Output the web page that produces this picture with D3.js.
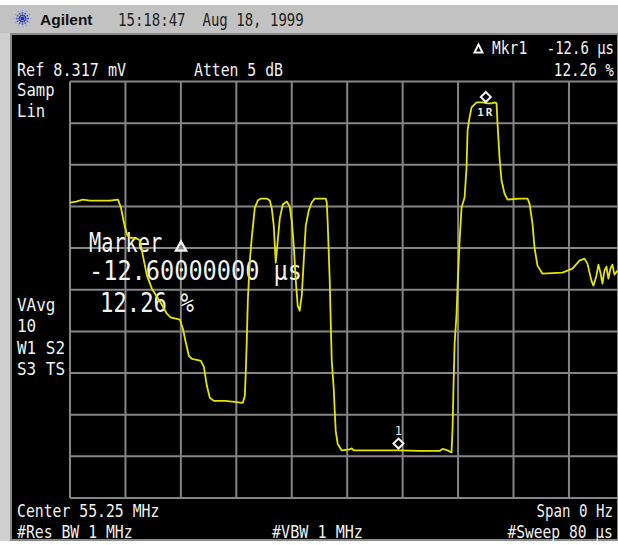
<!DOCTYPE html>
<html>
<head>
<meta charset="utf-8">
<script src="https://cdn.jsdelivr.net/npm/d3@7"></script>
<style>
  html, body { margin: 0; padding: 0; background: #ffffff; overflow: hidden; }
  svg { display: block; }
</style>
</head>
<body>
<svg id="screen" width="618" height="545"></svg>
<script>
// Zero-span sweep: time since trigger (µs) and detected level (mV, linear scale)
const sweepTimeUs = [
  0, 0.86, 1.87, 2.88, 4.32, 5.77, 6.92, 7.35, 7.78, 8.22, 8.65, 9.66, 10.09, 10.52,
  11.10, 11.82, 12.54, 13.26, 13.98, 14.56, 15.28, 15.86, 16.29, 16.72, 17.15, 17.59,
  18.31, 18.88, 19.32, 19.75, 20.18, 20.76, 22.34, 23.78, 24.94, 25.23, 25.37, 25.51,
  25.66, 25.95, 26.23, 26.67, 27.10, 27.53, 28.40, 28.83, 29.12, 29.40, 29.69, 29.98,
  30.27, 30.70, 31.28, 31.71, 32.00, 32.29, 32.58, 32.86, 33.15, 33.44, 33.73, 34.02,
  34.45, 34.88, 35.32, 36.90, 37.05, 37.19, 37.48, 37.62, 37.77, 38.05, 38.20, 38.34,
  38.63, 39.21, 40.36, 40.65, 40.94, 44.68, 47.57, 50.45, 53.33, 53.77, 54.49, 55.06,
  55.21, 55.35, 55.50, 55.78, 55.93, 56.22, 56.50, 56.94, 57.22, 57.37, 57.66, 57.95,
  58.67, 59.53, 60.25, 60.83, 61.26, 61.55, 61.69, 61.98, 62.27, 62.70, 63.14, 64.86,
  66.02, 66.31, 66.74, 67.03, 67.46, 68.18, 71.06, 72.50, 73.51, 74.23, 74.67, 75.24,
  75.53, 75.96, 76.25, 76.54, 76.83, 77.12, 77.41, 77.69, 77.98, 78.27, 78.56, 79.00
];
const traceMv = [
  5.90, 5.92, 5.96, 5.94, 5.94, 5.94, 5.96, 5.80, 5.50, 5.26, 5.20, 5.18, 5.14, 4.84,
  4.44, 4.18, 4.02, 3.86, 3.68, 3.60, 3.58, 3.56, 3.38, 3.10, 2.84, 2.78,
  2.76, 2.74, 2.62, 2.24, 2.00, 1.94, 1.94, 1.92, 1.90, 2.04, 2.54, 3.14,
  3.94, 4.74, 5.20, 5.80, 5.94, 5.98, 5.98, 5.94, 5.78, 5.44, 4.70, 5.14,
  5.58, 5.86, 5.92, 5.82, 5.54, 5.04, 4.34, 3.84, 3.74, 4.04, 4.74, 5.44,
  5.74, 5.90, 5.98, 5.98, 5.90, 5.48, 4.34, 3.54, 2.74, 2.20, 1.74, 1.34,
  1.08, 0.95, 0.97, 0.99, 0.95, 0.95, 0.95, 0.94, 0.94, 0.98, 0.95, 0.91,
  1.40, 2.28, 3.08, 3.68, 4.24, 5.14, 5.80, 6.00, 6.60, 7.34, 7.60, 7.80,
  7.90, 7.90, 7.88, 7.88, 7.90, 7.88, 7.48, 6.80, 6.34, 6.08, 5.96, 5.98,
  5.98, 5.88, 5.48, 5.00, 4.64, 4.48, 4.50, 4.58, 4.74, 4.78, 4.68, 4.34,
  4.24, 4.44, 4.66, 4.50, 4.28, 4.54, 4.62, 4.38, 4.58, 4.66, 4.46, 4.54
];

// Instrument settings
const refLevelMv = 8.317;
const sweepUs = 80;
const gridTimesUs = [0, 8, 16, 24, 32, 40, 48, 56, 64, 72, 80];
const gridLevelsMv = [0, 0.8317, 1.6634, 2.4951, 3.3268, 4.1585, 4.9902, 5.8219, 6.6536, 7.4853, 8.317];

// Delta marker: reference (1R) time, delta time and level ratio
const markerRefTimeUs = 60.0;
const markerDeltaUs = -12.6;
const markerRatio = 0.1226;
const markerDeltaText = "-12.60000000 µs";
const markerRatioText = "12.26 %";

const headerBrand = "Agilent";
const headerStamp = "15:18:47  Aug 18, 1999";

const topLeftLines = ["Samp", "Lin"];
const midLeftLines = ["VAvg", "10", "W1 S2", "S3 TS"];

const svg = d3.select("#screen");
const W = 618, H = 545;
const MONO = "'DejaVu Sans Mono', 'Liberation Mono', monospace";
const MONO_ADVANCE = 0.602; // glyph advance of DejaVu Sans Mono, in em

// Bezel and title bar
svg.append("rect").attr("x", 0).attr("y", 5).attr("width", W).attr("height", 536).attr("fill", "#cfcfcf");
svg.append("rect").attr("x", 0).attr("y", 5).attr("width", W).attr("height", 28).attr("fill", "#c2c2c2");
svg.append("rect").attr("x", 11).attr("y", 34).attr("width", W - 11).attr("height", 506)
  .attr("fill", "#000").attr("stroke", "#8a8a8a").attr("stroke-width", 2);

// Logo spark
const logo = svg.append("g").attr("transform", "translate(22.5,18.5)");
d3.range(12).forEach(i => {
  const a = i * Math.PI / 6;
  [3.2, 5.6, 8].forEach((r, j) => {
    logo.append("circle")
      .attr("cx", Math.cos(a) * r).attr("cy", Math.sin(a) * r)
      .attr("r", j === 2 ? 0.8 : 1.0)
      .attr("fill", j === 0 ? "#2d3fb8" : (j === 1 ? "#4a62d6" : "#8a9ae6"));
  });
});
logo.append("circle").attr("r", 1.8).attr("fill", "#1d2a9a");

svg.append("text").attr("x", 40).attr("y", 25)
  .attr("font-family", "'Liberation Sans', Arial, sans-serif").attr("font-weight", "bold")
  .attr("font-size", 15.5).attr("fill", "#111").text(headerBrand);

// Narrow instrument-style text: a monospace face squeezed to a fixed cell width
function mono(x, y, str, cell, opts = {}) {
  const size = opts.size || 18.5;
  const sx = cell / (MONO_ADVANCE * size);
  const len = str.length * cell;
  const x0 = opts.anchor === "end" ? x - len : x;
  return svg.append("text")
    .attr("transform", `translate(${x0},${y}) scale(${sx},1)`)
    .attr("font-family", MONO).attr("font-size", size)
    .attr("fill", opts.fill || "#f2f2f2")
    .style("white-space", "pre")
    .text(str);
}

mono(118, 26, headerStamp, 8.45, { fill: "#222" });

// Scales: ten divisions horizontally and vertically
const x = d3.scaleLinear().domain([0, sweepUs]).range([70, 624.4]);
const y = d3.scaleLinear().domain([0, refLevelMv]).range([498, 81.5]);

// Graticule
const grid = svg.append("g").attr("stroke", "#858585").attr("stroke-width", 2);
gridTimesUs.forEach(t => {
  grid.append("line").attr("x1", x(t)).attr("x2", x(t)).attr("y1", y(0)).attr("y2", y(refLevelMv));
});
gridLevelsMv.forEach(v => {
  grid.append("line").attr("x1", x(0)).attr("x2", x(sweepUs)).attr("y1", y(v)).attr("y2", y(v));
});

// Settings annotations
mono(17, 76, "Ref 8.317 mV", 9.1);
mono(194, 76, "Atten 5 dB", 8.9);
svg.append("path").attr("d", "M474.5,52.5 L478.5,44.5 L482.5,52.5 Z")
  .attr("fill", "none").attr("stroke", "#f2f2f2").attr("stroke-width", 2);
mono(492, 54, "Mkr1", 8.8);
mono(614, 54, "-12.6 µs", 8.4, { anchor: "end" });
mono(614, 76, "12.26 %", 8.6, { anchor: "end" });
topLeftLines.forEach((s, i) => mono(17, 96 + i * 21, s, 9.4));
midLeftLines.forEach((s, i) => mono(17, 311 + i * 21.3, s, 9.6));
mono(17, 517, "Center 55.25 MHz", 8.9);
mono(613, 517, "Span 0 Hz", 8.5, { anchor: "end" });
mono(17, 538, "#Res BW 1 MHz", 8.9);
mono(272, 538, "#VBW 1 MHz", 9.1);
mono(613, 538, "#Sweep 80 µs", 8.8, { anchor: "end" });

// Marker readout
mono(89, 252, "Marker", 12.2, { size: 27 });
svg.append("path").attr("d", "M176,250.5 L181,241.5 L186,250.5 Z")
  .attr("fill", "none").attr("stroke", "#f2f2f2").attr("stroke-width", 2.4);
mono(89, 280, markerDeltaText, 14.2, { size: 27 });
mono(100, 312, markerRatioText, 13.4, { size: 27 });

// Trace
const traceData = sweepTimeUs.map((t, i) => ({ t, v: traceMv[i] }));
const line = d3.line().x(d => x(d.t)).y(d => y(d.v));
svg.append("path").datum(traceData)
  .attr("d", line)
  .attr("fill", "none").attr("stroke", "#e4e400").attr("stroke-width", 1.8)
  .attr("stroke-linejoin", "round");

// Marker positions
const interp = t => {
  const i = d3.bisector(d => d.t).right(traceData, t);
  const a = traceData[i - 1], b = traceData[i];
  return a.v + (b.v - a.v) * (t - a.t) / (b.t - a.t);
};
const refMarker = { t: markerRefTimeUs, v: interp(markerRefTimeUs), label: "1R" };
const deltaMarker = { t: markerRefTimeUs + markerDeltaUs, v: interp(markerRefTimeUs) * markerRatio, label: "1" };

function diamond(m) {
  const cx = x(m.t), cy = y(m.v) - 6;
  svg.append("path")
    .attr("d", `M${cx},${cy - 5} L${cx + 5},${cy} L${cx},${cy + 5} L${cx - 5},${cy} Z`)
    .attr("fill", "#000").attr("stroke", "#f2f2f2").attr("stroke-width", 2);
  return { cx, cy };
}
const r = diamond(refMarker);
svg.append("text").attr("x", r.cx).attr("y", r.cy + 19)
  .attr("text-anchor", "middle").attr("font-family", MONO).attr("font-size", 11)
  .attr("font-weight", "bold").attr("letter-spacing", 2).attr("fill", "#e8e8e8").text(refMarker.label);
const d = diamond(deltaMarker);
svg.append("text").attr("x", d.cx).attr("y", d.cy - 9)
  .attr("text-anchor", "middle").attr("font-family", MONO).attr("font-size", 12)
  .attr("fill", "#e8e8e8").text(deltaMarker.label);
</script>
</body>
</html>
